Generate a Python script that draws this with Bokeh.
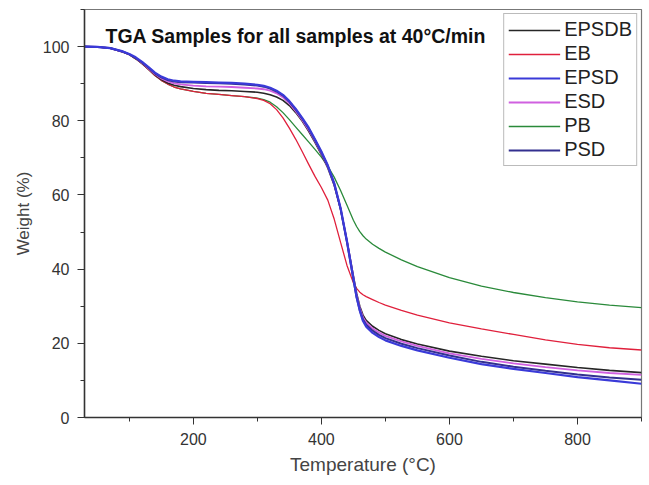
from bokeh.plotting import figure
from bokeh.models import Label, Legend, LegendItem, SingleIntervalTicker, Range1d
from bokeh.embed import file_html
from bokeh.resources import INLINE

temperature = [30, 50, 70, 90, 100, 110, 120, 130, 140, 150,
               160, 170, 180, 200, 220, 240, 260, 280, 300, 310,
               320, 330, 340, 350, 360, 370, 380, 390, 400, 410,
               420, 430, 440, 450, 455, 460, 465, 470, 480, 490,
               500, 525, 550, 600, 650, 700, 750, 800, 850, 900]

w_epsdb = [100, 99.9, 99.6, 98.6, 97.9, 96.8, 95.5, 94.0, 92.4, 91.1,
           90.2, 89.6, 89.2, 88.7, 88.4, 88.2, 88.1, 87.9, 87.7, 87.4,
           87.0, 86.4, 85.5, 84.1, 82.2, 79.9, 77.2, 74.2, 70.9, 67.3,
           62.6, 56.2, 47.6, 38.2, 33.5, 30.0, 27.6, 26.2, 24.6, 23.5,
           22.6, 21.0, 19.8, 17.9, 16.5, 15.3, 14.4, 13.5, 12.7, 12.1]

w_eb = [100, 99.9, 99.5, 98.5, 97.8, 96.7, 95.4, 93.8, 92.2, 90.9,
        89.9, 89.1, 88.6, 87.9, 87.4, 87.1, 86.8, 86.5, 86.0, 85.5,
        84.6, 83.0, 80.8, 78.0, 75.0, 71.7, 68.3, 65.0, 62.0, 58.6,
        53.5, 47.2, 41.0, 36.3, 34.8, 33.8, 33.1, 32.6, 31.8, 31.0,
        30.3, 28.9, 27.6, 25.5, 23.9, 22.4, 20.9, 19.7, 18.8, 18.2]

w_epsd = [100, 99.9, 99.6, 98.7, 98.0, 97.1, 95.9, 94.5, 93.0, 91.9,
          91.2, 90.8, 90.6, 90.5, 90.4, 90.3, 90.2, 90.0, 89.7, 89.4,
          88.9, 88.1, 87.0, 85.3, 83.2, 80.8, 78.2, 75.0, 71.7, 68.0,
          63.2, 56.5, 47.5, 37.5, 32.5, 28.8, 26.0, 24.5, 22.8, 21.7,
          20.8, 19.3, 18.1, 16.1, 14.4, 13.1, 12.0, 10.9, 10.0, 9.1]

w_esd = [100, 99.9, 99.6, 98.6, 97.9, 96.9, 95.6, 94.1, 92.6, 91.4,
         90.6, 90.1, 89.8, 89.5, 89.3, 89.2, 89.1, 88.9, 88.7, 88.5,
         88.1, 87.4, 86.3, 84.7, 82.6, 80.2, 77.6, 74.5, 71.2, 67.6,
         62.9, 56.3, 47.5, 37.8, 33.0, 29.5, 27.0, 25.6, 24.0, 22.9,
         22.0, 20.5, 19.3, 17.3, 15.8, 14.6, 13.6, 12.7, 12.0, 11.5]

w_pb = [100, 99.9, 99.5, 98.5, 97.8, 96.7, 95.4, 93.8, 92.2, 90.9,
        89.9, 89.1, 88.6, 87.9, 87.4, 87.1, 86.8, 86.5, 86.1, 85.7,
        85.0, 83.8, 82.2, 80.3, 78.3, 76.3, 74.3, 72.3, 70.2, 67.8,
        64.8, 61.2, 57.2, 53.2, 51.5, 50.1, 49.0, 48.1, 46.7, 45.6,
        44.6, 42.5, 40.7, 37.7, 35.4, 33.7, 32.3, 31.2, 30.3, 29.6]

w_psd = [100, 99.9, 99.6, 98.6, 97.9, 96.9, 95.7, 94.3, 92.8, 91.7,
         91.0, 90.6, 90.4, 90.3, 90.2, 90.1, 90.0, 89.8, 89.5, 89.2,
         88.7, 87.9, 86.8, 85.1, 83.0, 80.6, 78.0, 74.8, 71.5, 67.8,
         63.0, 56.2, 47.2, 37.2, 32.4, 28.9, 26.4, 25.0, 23.4, 22.3,
         21.4, 19.9, 18.7, 16.7, 15.0, 13.7, 12.6, 11.6, 10.8, 10.2]

series_names = ["EPSDB", "EB", "EPSD", "ESD", "PB", "PSD"]
series_values = [w_epsdb, w_eb, w_epsd, w_esd, w_pb, w_psd]
series_colors = ["#262626", "#e0203c", "#3a3ad8", "#d060e0", "#2a8a3a", "#33308f"]
series_widths = [1.6, 1.3, 2.2, 1.8, 1.3, 2.0]
draw_order = [4, 1, 0, 3, 5, 2]

FONT = "Liberation Sans"

p = figure(width=649, height=485, output_backend="svg", toolbar_location=None,
           x_range=Range1d(30, 900), y_range=Range1d(0, 110),
           min_border_left=84, min_border_right=8, min_border_top=9,
           min_border_bottom=68)
p.xgrid.visible = False
p.ygrid.visible = False
p.outline_line_color = "#777777"
p.outline_line_width = 1.2
p.background_fill_color = "white"
p.border_fill_color = "white"

p.xaxis.ticker = SingleIntervalTicker(interval=200, num_minor_ticks=2)
p.yaxis.ticker = SingleIntervalTicker(interval=20, num_minor_ticks=2)
for ax in (p.xaxis[0], p.yaxis[0]):
    ax.axis_line_color = "#333333"
    ax.axis_line_width = 1.5
    ax.major_tick_line_color = "#333333"
    ax.minor_tick_line_color = "#333333"
    ax.major_tick_out = 7
    ax.major_tick_in = 0
    ax.minor_tick_out = 4
    ax.minor_tick_in = 0
    ax.major_label_text_font = FONT
    ax.major_label_text_font_size = "16px"
    ax.major_label_text_color = "#333333"
    ax.axis_label_text_font = FONT
    ax.axis_label_text_font_style = "normal"
    ax.axis_label_text_color = "#444444"

p.xaxis.axis_label = "Temperature (°C)"
p.xaxis.axis_label_text_font_size = "19px"
p.xaxis.major_label_standoff = 8
p.xaxis.axis_label_standoff = 6
p.yaxis.axis_label = "Weight (%)"
p.yaxis.axis_label_text_font_size = "17px"
p.yaxis.major_label_standoff = 8
p.yaxis.axis_label_standoff = 7

renderers = {}
for i in draw_order:
    r = p.line(temperature, series_values[i], line_color=series_colors[i],
               line_width=series_widths[i])
    renderers[i] = r

items = [LegendItem(label=series_names[i], renderers=[renderers[i]])
         for i in range(len(series_names))]
legend = Legend(items=items, location="top_right")
legend.border_line_color = "#777777"
legend.border_line_width = 1
legend.background_fill_color = "white"
legend.background_fill_alpha = 1.0
legend.margin = 4
legend.padding = 4
legend.spacing = 1
legend.glyph_width = 52
legend.glyph_height = 20
legend.label_height = 20
legend.label_standoff = 4
legend.label_text_font = FONT
legend.label_text_font_size = "20px"
legend.label_text_color = "#222222"
p.add_layout(legend)

title = Label(x=21, y=382, x_units="screen", y_units="screen",
              text="TGA Samples for all samples at 40°C/min",
              text_font=FONT, text_font_size="19.5px", text_font_style="bold",
              text_color="#111111", text_baseline="alphabetic")
p.add_layout(title)

open("out.html", "w").write(file_html(p, INLINE))
